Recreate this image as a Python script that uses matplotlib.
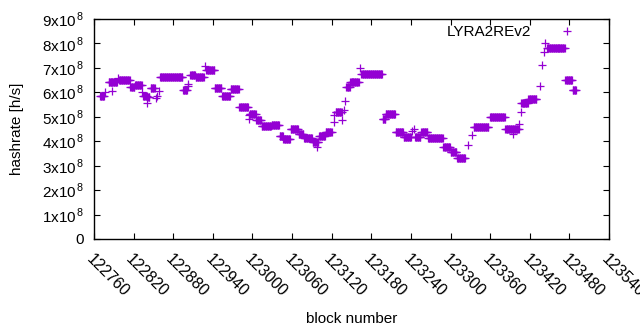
import numpy as np
import matplotlib
matplotlib.use('Agg')
import matplotlib.pyplot as plt
from matplotlib.ticker import FuncFormatter

plt.rcParams['font.family'] = ['Liberation Sans', 'DejaVu Sans']
plt.rcParams['mathtext.fontset'] = 'custom'
plt.rcParams['mathtext.rm'] = 'Liberation Sans'

# runs of blocks sharing one hashrate estimate (first block, last block, hashrate in 1e8 h/s)
run_start = [122769, 122777, 122782, 122788, 122797, 122798, 122815, 122822, 122833, 122834,
             122841, 122842, 122846, 122854, 122856, 122858, 122860, 122895, 122902, 122903,
             122906, 122914, 122928, 122930, 122943, 122954, 122967, 122980, 122994, 122995,
             122996, 123006, 123014, 123029, 123041, 123047, 123058, 123070, 123078, 123091,
             123097, 123098, 123101, 123111, 123123, 123124, 123126, 123136, 123138, 123140,
             123142, 123148, 123163, 123165, 123197, 123202, 123217, 123229, 123242, 123244,
             123246, 123256, 123266, 123289, 123300, 123310, 123327, 123333, 123335, 123360,
             123383, 123395, 123404, 123406, 123407, 123418, 123435, 123438, 123441, 123443,
             123446, 123474, 123485]
run_end = [122775, 122777, 122795, 122788, 122797, 122814, 122821, 122832, 122833, 122840,
           122841, 122844, 122852, 122854, 122856, 122858, 122894, 122901, 122902, 122903,
           122913, 122926, 122928, 122942, 122953, 122966, 122979, 122993, 122994, 122995,
           123005, 123013, 123028, 123040, 123046, 123057, 123069, 123077, 123090, 123096,
           123097, 123100, 123110, 123120, 123123, 123124, 123135, 123136, 123138, 123140,
           123147, 123161, 123163, 123196, 123201, 123216, 123228, 123240, 123242, 123244,
           123254, 123265, 123288, 123299, 123309, 123322, 123327, 123333, 123357, 123382,
           123403, 123395, 123404, 123406, 123417, 123430, 123435, 123438, 123441, 123443,
           123473, 123484, 123490]
run_rate = [5.84, 6.00, 6.41, 6.06, 6.57, 6.51, 6.21, 6.29, 6.00, 5.87,
            5.58, 5.82, 6.17, 5.76, 5.86, 6.06, 6.64, 6.08, 6.25, 6.33,
            6.71, 6.63, 7.08, 6.90, 6.17, 5.87, 6.12, 5.39, 4.91, 5.08,
            5.10, 4.86, 4.62, 4.66, 4.21, 4.08, 4.49, 4.28, 4.12, 3.98,
            3.78, 3.98, 4.23, 4.37, 4.80, 5.08, 5.18, 4.85, 5.29, 5.65,
            6.20, 6.44, 7.00, 6.74, 4.90, 5.10, 4.37, 4.19, 4.40, 4.50,
            4.19, 4.39, 4.15, 3.78, 3.55, 3.30, 3.85, 4.26, 4.60, 4.98,
            4.50, 4.30, 4.71, 5.21, 5.55, 5.71, 6.26, 7.12, 7.66, 8.03,
            7.80, 6.49, 6.08]

xticks = np.arange(122760, 123541, 60)

blocks = []
rates = []
for s, e, r in zip(run_start, run_end, run_rate):
    for b in range(s, e + 1):
        blocks.append(b)
        rates.append(r * 1e8)

fig = plt.figure(figsize=(6.4, 3.3), dpi=100)
ax = fig.add_axes([94/640, 91/330, 515/640, 220/330])

ax.plot(blocks, rates, linestyle='none', marker='+', markersize=5.2,
        markeredgewidth=0.9, color='#9400d3', label='LYRA2REv2')

ax.set_xlim(122760, 123540)
ax.set_ylim(0, 9e8)
ax.set_xticks(xticks)
ax.set_yticks(np.arange(0, 9.01e8, 1e8))

def fmt(v, pos):
    n = int(round(v / 1e8))
    if n == 0:
        return '0'
    return r'%dx10$^{\,8}$' % n

ax.yaxis.set_major_formatter(FuncFormatter(fmt))
ax.tick_params(direction='in', length=4.5, width=0.8, top=True, right=True,
               labelsize=11, colors='black')
ax.tick_params(axis='y', pad=7)
for lab in ax.get_xticklabels():
    lab.set_rotation(-45)
    lab.set_ha('left')
    lab.set_va('top')
    lab.set_rotation_mode('anchor')
    lab.set_fontsize(11.5)
ax.tick_params(axis='x', pad=9)
for sp in ax.spines.values():
    sp.set_linewidth(1.0)

ax.set_xlabel('block number', fontsize=11, labelpad=9)
ax.set_ylabel('hashrate [h/s]', fontsize=11, labelpad=13)

ax.legend(loc='upper right', bbox_to_anchor=(0.962, 1.02), frameon=False,
          markerfirst=False, numpoints=1, handlelength=1.5, handletextpad=1.6,
          fontsize=11, borderaxespad=0.3)

fig.savefig('out.png', dpi=100)
